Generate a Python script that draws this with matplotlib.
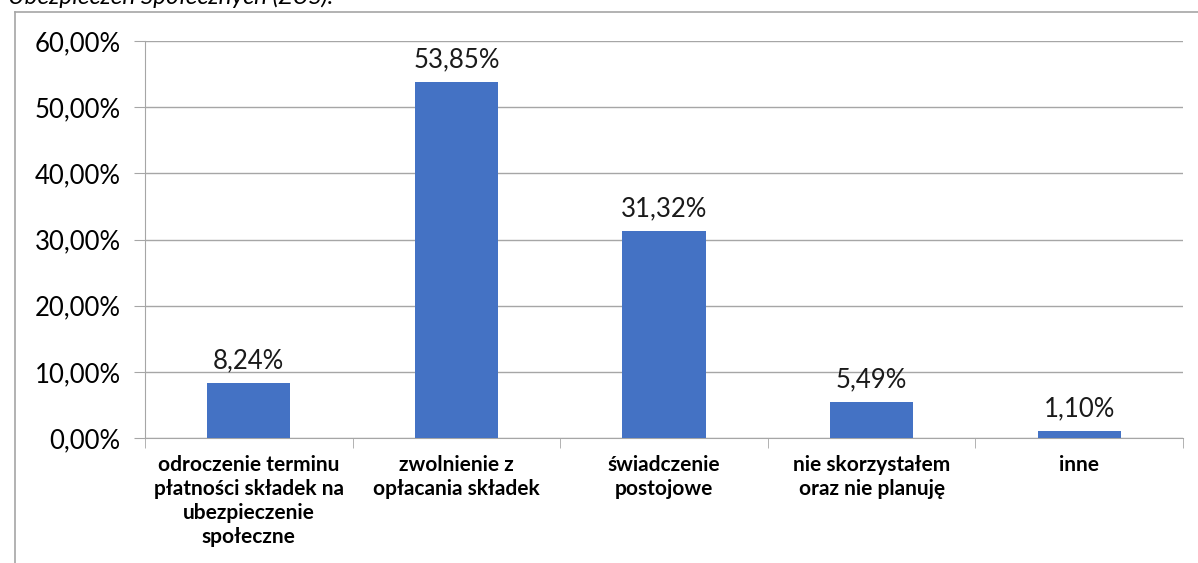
import os
import matplotlib.pyplot as plt
from matplotlib import font_manager as fm
from matplotlib.lines import Line2D

categories = [
    "odroczenie terminu\npłatności składek na\nubezpieczenie\nspołeczne",
    "zwolnienie z\nopłacania składek",
    "świadczenie\npostojowe",
    "nie skorzystałem\noraz nie planuję",
    "inne",
]
values = [8.24, 53.85, 31.32, 5.49, 1.10]
labels = ["8,24%", "53,85%", "31,32%", "5,49%", "1,10%"]
yticks = [0, 10, 20, 30, 40, 50, 60]
ytick_labels = ["0,00%", "10,00%", "20,00%", "30,00%", "40,00%", "50,00%", "60,00%"]

plt.rcParams["font.family"] = ["Lato", "DejaVu Sans"]
grey = "#a6a6a6"

# pick the Lato bold file directly (prefer the plain "Bold" cut)
bold_files = [f.fname for f in fm.fontManager.ttflist
              if f.name == "Lato" and f.weight == 700 and f.style == "normal"]
plain = [p for p in bold_files
         if "bold" in os.path.basename(p).lower()
         and "semi" not in os.path.basename(p).lower()
         and "extra" not in os.path.basename(p).lower()]
if plain:
    bold_fp = fm.FontProperties(fname=plain[0], size=15)
elif bold_files:
    bold_fp = fm.FontProperties(fname=bold_files[0], size=15)
else:
    bold_fp = fm.FontProperties(family="Lato", weight="bold", size=15)

fig = plt.figure(figsize=(11.98, 5.63), dpi=100)
ax = fig.add_axes([145 / 1198, 1 - 438 / 563, (1183 - 145) / 1198, (438 - 41) / 563])

x = list(range(len(values)))
ax.bar(x, values, width=0.4, color="#4472C4", zorder=3)
for xi, v, lab in zip(x, values, labels):
    ax.annotate(lab, (xi, v), xytext=(0, 7), textcoords="offset points",
                ha="center", va="bottom", fontsize=18.5, color="#1a1a1a")

ax.set_xlim(-0.5, len(values) - 0.5)
ax.set_ylim(0, 60)
ax.set_yticks(yticks)
ax.set_yticklabels(ytick_labels, fontsize=18.5)
ax.yaxis.grid(True, color=grey, linewidth=1, zorder=0)

ax.set_xticks(x)
ax.set_xticklabels(categories, fontproperties=bold_fp, va="top", linespacing=1.25)
ax.tick_params(axis="x", length=0, pad=12)
ax.set_xticks([i - 0.5 for i in range(len(values) + 1)], minor=True)
ax.tick_params(axis="x", which="minor", length=7, color=grey, direction="out")
ax.tick_params(axis="y", length=8, color=grey, pad=9.5)

for s in ["top", "right"]:
    ax.spines[s].set_visible(False)
for s in ["left", "bottom"]:
    ax.spines[s].set_color(grey)

# outer frame of the chart area
fig.add_artist(Line2D([15 / 1198, 15 / 1198], [0, 1 - 12 / 563], color=grey, lw=1.2))
fig.add_artist(Line2D([15 / 1198, 1], [1 - 12 / 563, 1 - 12 / 563], color=grey, lw=1.2))

fig.text(8 / 1198, 1 - 4 / 563, "Ubezpieczeń Społecznych (ZUS).", fontsize=17.5,
         style="italic", va="baseline", ha="left", color="#000000")

fig.savefig("out.png", dpi=100)
